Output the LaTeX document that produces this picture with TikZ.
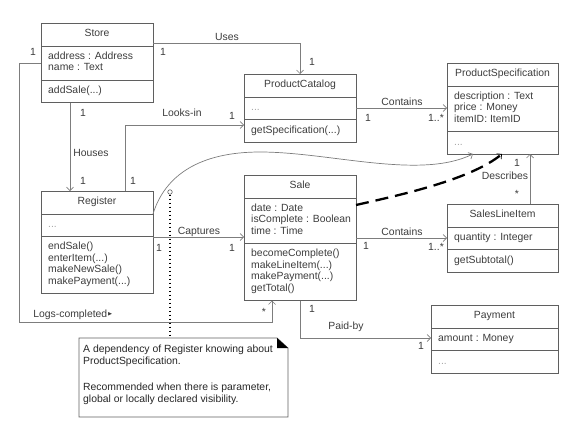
\documentclass[tikz,border=0pt]{standalone}
\usepackage{fontspec}
\setmainfont{Liberation Sans}
\usepackage{amssymb}
\usetikzlibrary{arrows.meta,positioning}

\definecolor{umlline}{RGB}{125,125,125}
\definecolor{umlbox}{RGB}{95,95,95}
\definecolor{umltext}{RGB}{60,60,60}

\tikzset{
  classbox/.style={draw=umlbox, line width=0.8pt, inner sep=0pt, outer sep=0pt},
  sepline/.style={draw=umlbox, line width=0.8pt},
  classtext/.style={font=\fontsize{10.4}{11.5}\selectfont, text=umltext, inner sep=0pt,
    align=left, execute at begin node=\strut, execute at end node=\strut},
  lbl/.style={font=\fontsize{10.4}{11.5}\selectfont, text=umltext, inner sep=0pt},
  assoc/.style={draw=umlline, line width=0.7pt, ->},
  depline/.style={draw=black, line width=2.3pt, dash pattern=on 13pt off 7pt,
    -{Straight Barb[length=3.5pt,width=7pt,line width=0.7pt]}},
  notebox/.style={draw=none, inner sep=0pt, outer sep=0pt},
  noteline/.style={draw=black, line width=1.6pt, dash pattern=on 1.6pt off 2.4pt},
}

% class box: name, top left, width, title, #attr lines, attrs, #op lines, ops
\newcommand{\umlclass}[8]{%
  \pgfmathsetmacro{\clsattrh}{11.5*#5+11}%
  \pgfmathsetmacro{\clsmethh}{11.5*#7+11}%
  \pgfmathsetmacro{\clsboxh}{23+\clsattrh+\clsmethh}%
  \node[classbox, minimum width=#3pt, minimum height=\clsboxh pt, anchor=north west] (#1) at #2 {};
  \node[classtext] (#1-title) at ([yshift=-11.5pt]#1.north) {#4};
  \draw[sepline] ([yshift=-23pt]#1.north west) -- ([yshift=-23pt]#1.north east);
  \draw[sepline] ([yshift=-23pt-\clsattrh pt]#1.north west) -- ([yshift=-23pt-\clsattrh pt]#1.north east);
  \node[classtext, anchor=west] (#1-attrs) at ([xshift=7pt,yshift=-23pt-0.5*\clsattrh pt]#1.north west) {#6};
  \node[classtext, anchor=west] (#1-ops) at ([xshift=7pt,yshift=-23pt-\clsattrh pt-0.5*\clsmethh pt]#1.north west) {#8};
}
\newcommand{\dotsgray}{{\color{gray!70}...}}

\begin{document}
\begin{tikzpicture}[x=1pt,y=-1pt,>={Straight Barb[length=3.5pt,width=7pt]}]
\useasboundingbox (0,0) rectangle (573,423);

%classes
\umlclass{store}{(41,23)}{112}{Store}{2}{address : Address\\name : Text}{1}{addSale(...)}
\umlclass{catalog}{(244,74)}{112}{ProductCatalog}{1}{\dotsgray}{1}{getSpecification(...)}
\umlclass{spec}{(447,63)}{111}{ProductSpecification}{3}{description : Text\\price : Money\\itemID: ItemID}{1}{\dotsgray}
\umlclass{register}{(41,191)}{112}{Register}{1}{\dotsgray}{4}{endSale()\\enterItem(...)\\makeNewSale()\\makePayment(...)}
\umlclass{sale}{(244,175)}{112}{Sale}{3}{date : Date\\isComplete : Boolean\\time : Time}{4}{becomeComplete()\\makeLineItem(...)\\makePayment(...)\\getTotal()}
\umlclass{lineitem}{(447,204)}{111}{SalesLineItem}{1}{quantity : Integer}{1}{getSubtotal()}
\umlclass{payment}{(431,305)}{127}{Payment}{1}{amount : Money}{1}{\dotsgray}

%associations
\draw[assoc] ([yshift=-20pt]store.north east) -| (catalog.north);
\node[lbl] at (227,37) {Uses};
\node[lbl] at (163,52) {1};
\node[lbl] at (312,62) {1};

\draw[assoc] ([xshift=29pt]store.south west) -- ([xshift=29pt]register.north west);
\node[lbl] at (83,113) {1};
\node[lbl] at (91,153) {Houses};
\node[lbl] at (83,181) {1};

\draw[assoc] ([xshift=84pt]register.north west) |- ([yshift=-51pt]catalog.north west);
\node[lbl] at (182,113) {Looks-in};
\node[lbl] at (133,181) {1};
\node[lbl] at (232,116) {1};

\draw[assoc] ([yshift=-34pt]catalog.north east) coordinate (pcc) -- (pcc -| spec.west);
\node[lbl] at (402,102) {Contains};
\node[lbl] at (368,118) {1};
\node[lbl] at (436,118) {1..*};

\draw[assoc] ([yshift=-46pt]register.north east) coordinate (cap) -- (cap -| sale.west);
\node[lbl] at (199,232) {Captures};
\node[lbl] at (159,248) {1};
\node[lbl] at (232,248) {1};

\draw[assoc] ([yshift=-63pt]sale.north east) coordinate (slc) -- (slc -| lineitem.west);
\node[lbl] at (402,232) {Contains};
\node[lbl] at (366,246) {1};
\node[lbl] at (436,247) {1..*};

\draw[assoc] ([xshift=83pt]lineitem.north west) coordinate (dsc) -- (dsc |- spec.south);
\node[lbl] at (517,163) {1};
\node[lbl] at (505,176) {Describes};
\node[lbl] at (517,194) {*};

\draw[assoc] (sale.south) |- ([yshift=-33pt]payment.north west);
\node[lbl] at (312,309) {1};
\node[lbl] at (346,327) {Paid-by};
\node[lbl] at (421,346) {1};

\coordinate (logbend) at (19,322);
\draw[assoc] ([yshift=-40pt]store.north west) -| (logbend) -| ([xshift=28pt]sale.south west);
\node[lbl] at (33,52) {1};
\node[lbl] at (73,315) {Logs-completed\raisebox{1.8pt}{\tiny$\blacktriangleright$}};
\node[lbl] at (264,312) {*};

%dependencies
\coordinate (curvetop) at (260,152);
\draw[assoc] ([yshift=-23pt]register.north east) .. controls (165,175) and (200,152) .. (curvetop)
  .. controls (330,152) and (420,180) .. ([xshift=26pt]spec.south west);
\draw[depline] ([yshift=-30pt]sale.north east) .. controls (400,195) and (470,180) .. ([xshift=55pt]spec.south west);

%note
\node[notebox, minimum width=209pt, minimum height=79pt, anchor=north west] (note) at (79,338) {};
\draw[draw=umlbox, line width=0.8pt] (note.north west) -- ([xshift=-11pt]note.north east)
  -- ([yshift=-10pt]note.north east) -- (note.south east) -- (note.south west) -- cycle;
\fill[black] ([xshift=-11pt]note.north east) -- ([xshift=-11pt,yshift=-10pt]note.north east)
  -- ([yshift=-10pt]note.north east) -- cycle;
\node[lbl, text=black!85, anchor=north west, align=left, font=\fontsize{10.4}{12}\selectfont]
  (notetext) at ([xshift=4pt,yshift=-6.3pt]note.north west)
  {\strut A dependency of Register knowing about\\ProductSpecification.\\[14pt]
   Recommended when there is parameter,\\global or locally declared visibility.};
\node[circle, draw=umlbox, line width=0.6pt, minimum size=4.5pt, inner sep=0pt] (notepin) at (170,192) {};
\draw[noteline] (notepin.south) -- (notepin |- note.north);
\end{tikzpicture}
\end{document}
